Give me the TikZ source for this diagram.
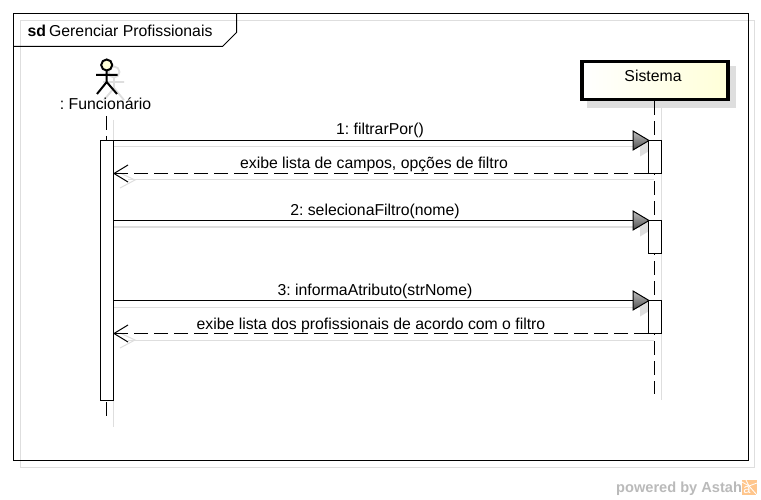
\documentclass[tikz,border=0pt]{standalone}
\usepackage{fontspec}
\setmainfont{Liberation Sans}
\usetikzlibrary{calc,shadings}
\definecolor{shad}{HTML}{DEDEDE}
\definecolor{lemon}{HTML}{FFFFD8}
\tikzset{
  x=1pt,y=-1pt,
  line/.style={line width=1pt,black},
  shadowline/.style={line width=1pt,shad},
  actbox/.style={draw=black,line width=1pt,fill=white,inner sep=0pt,minimum width=13pt},
  life/.style={line width=1pt,black,dash pattern=on 14pt off 6pt},
  ret/.style={line width=1pt,black,dash pattern=on 14pt off 6pt},
  lab/.style={font=\fontsize{15.8}{18}\selectfont\frenchspacing,inner sep=0pt,anchor=base},
}
\newcommand{\syncmsg}[4]{% y, label-x, label, name
  \coordinate (#4a) at (113.5,#1);
  \coordinate (#4b) at (633,#1);
  \draw[shadowline] ($(#4a)+(0,6.5)$) -- ($(#4b)+(7,6.5)$);
  \fill[shad] ($(#4b)+(7,-3)$) -- ($(#4b)+(23,6.5)$) -- ($(#4b)+(7,16)$) -- cycle;
}
\newcommand{\synchead}[1]{%
  \path[draw=black,line width=1pt,top color=black!25,bottom color=black!70,shading angle=0]
    ($(#1b)+(0,-9.5)$) -- ($(#1b)+(16,0)$) -- ($(#1b)+(0,9.5)$) -- cycle;
}
\begin{document}
\begin{tikzpicture}
\useasboundingbox (0,0) rectangle (761,500);
\fill[white] (0,0) rectangle (761,500);
% frame shadow and frame
\draw[shadowline] (20.5,20.5) rectangle (754.5,467);
\fill[white] (13.5,13.5) rectangle (748.5,460.5);
\draw[shadowline] (20.5,20.5) -- (748.5,20.5);
\draw[shadowline] (20.5,20.5) -- (20.5,460.5);
\draw[line] (13.5,13.5) rectangle (748.5,460.5);
\draw[line] (13.5,46.5) -- (222.5,46.5) -- (236.5,32.5) -- (236.5,13.5);
\node[lab,anchor=base west] (title) at (27.5,37) {\textbf{sd}\hspace{3pt}Gerenciar Profissionais};
% actor shadow
\draw[line width=1.8pt,shad] (114,72) circle (5.5);
\draw[line width=1.8pt,shad] (114,77.5) -- (114,88) (103,82) -- (124,82) (114,88) -- (104,100) (114,88) -- (124,100);
% lifeline shadows
\draw[shadowline] (113.5,120) -- (113.5,427);
\draw[shadowline] (661.5,108) -- (661.5,400);
% actor
\draw[line width=2pt,fill=lemon] (106.7,65) circle (5.5);
\draw[line width=2pt] (106.7,70.5) -- (106.7,82) (96,75) -- (117.5,75) (106.7,82) -- (97,94) (106.7,82) -- (117,94);
\node[lab] (actor) at (105.5,110) {: Funcionário};
% Sistema box
\fill[shad] (587,66) rectangle (735.5,108);
\node[draw=black,line width=3.5pt,left color=white,right color=lemon,minimum width=146pt,minimum height=38pt,inner sep=0pt] (sys) at (655,80.5) {};
\node[lab] (systxt) at (653,82) {Sistema};
% lifelines
\coordinate (l0) at (106.5,116);
\coordinate (l0e) at (106.5,417);
\coordinate (l1e) at (654.5,394);
\draw[life] (l0) -- (106.5,140);
\draw[life] (106.5,402) -- (l0e);
\draw[life] (sys.south -| l1e) -- (l1e);
% messages (shadows first)
\syncmsg{140.5}{}{}{m}
\syncmsg{220.5}{}{}{n}
\syncmsg{300.5}{}{}{o}
\draw[shadowline] (128,180) -- (654,180);
\draw[shadowline] (128,340) -- (654,340);
\draw[shadowline] (120,173) -- (135,180) -- (120,188);
\draw[shadowline] (120,333) -- (135,340) -- (120,348);
% activations
\node[actbox,minimum height=260pt] (a0) at (107,270.5) {};
\node[actbox,minimum height=33pt] (a1) at (655,157) {};
\node[actbox,minimum height=33pt] (a2) at (655,237) {};
\node[actbox,minimum height=33pt] (a3) at (655,317) {};
% connectors
\draw[line] (a0.east |- 0,140.5) -- (mb);
\synchead{m}
\draw[line] (a0.east |- 0,220.5) -- (nb);
\synchead{n}
\draw[line] (a0.east |- 0,300.5) -- (ob);
\synchead{o}
\draw[ret] (a1.west |- 0,173.5) -- (a0.east |- 0,173.5);
\draw[line] (128,165) -- (a0.east |- 0,173.5) -- (128,182);
\draw[ret] (a3.west |- 0,333.5) -- (a0.east |- 0,333.5);
\draw[line] (128,325) -- (a0.east |- 0,333.5) -- (128,342);
% labels
\node[lab] at (380,135) {1: filtrarPor()};
\node[lab] at (374,169) {exibe lista de campos, opções de filtro};
\node[lab] at (375,215) {2: selecionaFiltro(nome)};
\node[lab] at (375,295) {3: informaAtributo(strNome)};
\node[lab] at (371,329) {exibe lista dos profissionais de acordo com o filtro};
% footer
\node[font=\bfseries\fontsize{14.6}{16}\selectfont,text=black!27,anchor=base west,inner sep=0pt] (pw) at (616,492) {powered by Astah};
\fill[orange!45] (742,480) rectangle (757,495);
\draw[white,line width=0.8pt] (749,486) -- (742,482) (749,486) -- (746,480) (749,486) -- (757,483) (749,486) -- (757,495);
\node[font=\fontsize{13}{13}\selectfont,text=white,inner sep=0pt] (lg) at (747,490) {a};
\end{tikzpicture}
\end{document}
